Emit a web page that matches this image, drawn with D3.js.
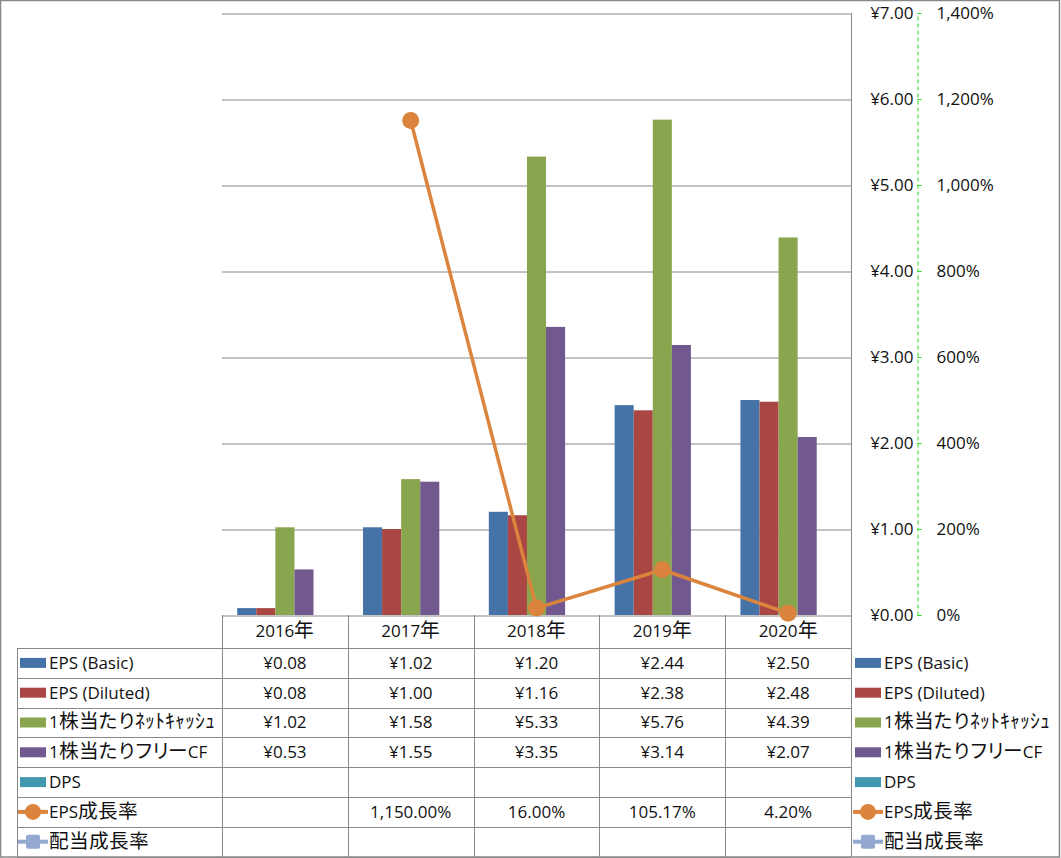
<!DOCTYPE html>
<html>
<head>
<meta charset="utf-8">
<script src="https://cdn.jsdelivr.net/npm/d3@7"></script>
<style>
  @font-face {
    font-family: "CJKBig";
    src: local("Noto Sans CJK JP Regular"), local("NotoSansCJKjp-Regular"), local("Noto Sans CJK JP");
    size-adjust: 116%;
  }
  html, body { margin: 0; padding: 0; background: #fff; }
  svg { display: block; }
  text { font-family: "Open Sans", "CJKBig", "Noto Sans CJK JP", sans-serif; font-size: 17px; fill: #111; }
  tspan.p { font-feature-settings: "palt" 1; }
</style>
</head>
<body>
<svg id="chart" width="1061" height="858"></svg>
<script>
// ---- data ----
const years = ["2016年", "2017年", "2018年", "2019年", "2020年"];
const epsBasic = [0.08, 1.02, 1.20, 2.44, 2.50];
const epsDiluted = [0.08, 1.00, 1.16, 2.38, 2.48];
const netCashPerShare = [1.02, 1.58, 5.33, 5.76, 4.39];
const freeCFPerShare = [0.53, 1.55, 3.35, 3.14, 2.07];
const dps = [null, null, null, null, null];
const epsGrowth = [null, 1150.00, 16.00, 105.17, 4.20];
const divGrowth = [null, null, null, null, null];
const yenTicks = [0, 1, 2, 3, 4, 5, 6, 7];
const pctTicks = [0, 200, 400, 600, 800, 1000, 1200, 1400];

const barSeries = [
  { name: "EPS (Basic)", values: epsBasic, color: "#4572A7" },
  { name: "EPS (Diluted)", values: epsDiluted, color: "#AA4643" },
  { name: "1株当たりﾈｯﾄｷｬｯｼｭ", values: netCashPerShare, color: "#89A54E" },
  { name: "1株当たりフリーCF", values: freeCFPerShare, color: "#71588F" },
  { name: "DPS", values: dps, color: "#4198AF" }
];
const lineSeries = [
  { name: "EPS成長率", values: epsGrowth, color: "#DB843D", marker: "circle" },
  { name: "配当成長率", values: divGrowth, color: "#93A9CF", marker: "square" }
];

// ---- layout ----
const svg = d3.select("#chart");
const W = 1061, H = 858;
const plotL = 222, plotR = 851, plotT = 13, plotB = 615;
const axisX = 917.5;
const headerB = 648, rowH = 29.8;
const tableL = 17;
const gridColor = "#888888";

// text helper: proportional kana for full-width runs, normal for half-width katakana
function setLabel(textSel, str) {
  const runs = str.match(/[\uFF61-\uFF9F]+|[^\uFF61-\uFF9F]+/g) || [];
  runs.forEach(r => {
    textSel.append("tspan").attr("class", /[\uFF61-\uFF9F]/.test(r) ? "h" : "p").text(r);
  });
}

// outer frame
svg.append("rect").attr("x", 0.5).attr("y", 0.5).attr("width", W - 2).attr("height", H - 1.5)
  .attr("fill", "none").attr("stroke", gridColor).attr("stroke-width", 1.5);

const x0 = d3.scaleBand().domain(years).range([plotL, plotR]).padding(0);
const x1 = d3.scaleBand().domain(barSeries.map(s => s.name))
  .range([x0.bandwidth() * 0.121, x0.bandwidth() * 0.879]).padding(0);
const y = d3.scaleLinear().domain([0, 7]).range([plotB, plotT]);
const y2 = d3.scaleLinear().domain([0, 1400]).range([plotB, plotT]);

// gridlines
const grid = svg.append("g").attr("transform", `translate(${plotL},0)`)
  .call(d3.axisRight(y).tickValues(yenTicks).tickSize(plotR - plotL).tickFormat(""));
grid.select(".domain").remove();
grid.selectAll("line").attr("stroke", gridColor).attr("stroke-width", 1)
  .attr("transform", "translate(0,0.5)");

// plot right border
svg.append("line").attr("x1", plotR + 0.5).attr("x2", plotR + 0.5).attr("y1", plotT).attr("y2", H - 1)
  .attr("stroke", gridColor);

// bars
const barG = svg.append("g");
barSeries.forEach(s => {
  barG.append("g").selectAll("rect")
    .data(years.map((yr, i) => ({ yr, v: s.values[i] })).filter(d => d.v != null))
    .join("rect")
    .attr("x", d => x0(d.yr) + x1(s.name))
    .attr("width", x1.bandwidth())
    .attr("y", d => y(d.v))
    .attr("height", d => y(0) - y(d.v))
    .attr("fill", s.color);
});

// lines
lineSeries.forEach(s => {
  const pts = years.map((yr, i) => ({ yr, v: s.values[i] })).filter(d => d.v != null);
  const line = d3.line().x(d => x0(d.yr) + x0.bandwidth() / 2).y(d => y2(d.v));
  svg.append("path").datum(pts).attr("d", line).attr("fill", "none")
    .attr("stroke", s.color).attr("stroke-width", 3.5).attr("stroke-linejoin", "round");
  svg.append("g").selectAll("circle").data(pts).join("circle")
    .attr("cx", d => x0(d.yr) + x0.bandwidth() / 2).attr("cy", d => y2(d.v)).attr("r", 8.5)
    .attr("fill", s.color);
});

// axis line (dashed green) with ticks
const ax = svg.append("g").attr("transform", `translate(${axisX},0)`)
  .call(d3.axisRight(y).tickValues(yenTicks).tickSizeInner(4).tickSizeOuter(0).tickFormat(""));
ax.select(".domain").attr("stroke", "#22dd22").attr("stroke-dasharray", "4,3");
ax.selectAll(".tick line").attr("stroke", "#22dd22");

const yenFmt = v => "¥" + v.toFixed(2);
const axL = svg.append("g").attr("transform", `translate(${axisX - 4},0)`)
  .call(d3.axisLeft(y).tickValues(yenTicks).tickSize(0).tickPadding(0).tickFormat(yenFmt));
axL.select(".domain").remove();
axL.selectAll("text").attr("font-size", null).attr("fill", "#111").attr("font-family", null);

const pctFmt = v => d3.format(",")(v) + "%";
const axR = svg.append("g").attr("transform", `translate(${axisX},0)`)
  .call(d3.axisRight(y2).tickValues(pctTicks).tickSize(0).tickPadding(19).tickFormat(pctFmt));
axR.select(".domain").remove();
axR.selectAll("text").attr("font-size", null).attr("fill", "#111").attr("font-family", null);

// ---- data table ----
const table = svg.append("g");
const allRows = [...barSeries.map(s => ({ ...s, type: "bar" })), ...lineSeries.map(s => ({ ...s, type: "line" }))];
const rowY = i => headerB + i * rowH;
const tableBottom = rowY(allRows.length);

// vertical lines
x0.domain().forEach((yr, i) => {
  table.append("line").attr("x1", Math.round(x0(yr)) + 0.5).attr("x2", Math.round(x0(yr)) + 0.5)
    .attr("y1", plotB).attr("y2", tableBottom).attr("stroke", gridColor);
});
table.append("line").attr("x1", tableL + 0.5).attr("x2", tableL + 0.5)
  .attr("y1", headerB).attr("y2", tableBottom).attr("stroke", gridColor);
// horizontal lines
for (let i = 0; i <= allRows.length; i++) {
  table.append("line").attr("x1", tableL).attr("x2", plotR)
    .attr("y1", Math.round(rowY(i)) + 0.5).attr("y2", Math.round(rowY(i)) + 0.5).attr("stroke", gridColor);
}

// header
table.append("g").selectAll("text").data(years).join("text")
  .attr("x", d => x0(d) + x0.bandwidth() / 2).attr("y", (plotB + headerB) / 2)
  .attr("text-anchor", "middle").attr("dy", "0.35em").text(d => d);

function drawKey(g, s, x, cy) {
  if (s.type === "bar") {
    g.append("rect").attr("x", x).attr("y", cy - 5).attr("width", 26).attr("height", 10).attr("fill", s.color);
  } else {
    g.append("line").attr("x1", x - 2).attr("x2", x + 28).attr("y1", cy).attr("y2", cy)
      .attr("stroke", s.color).attr("stroke-width", 4);
    if (s.marker === "circle") {
      g.append("circle").attr("cx", x + 13).attr("cy", cy).attr("r", 8).attr("fill", s.color);
    } else {
      g.append("rect").attr("x", x + 6).attr("y", cy - 7).attr("width", 14).attr("height", 14)
        .attr("rx", 2).attr("fill", s.color);
    }
  }
}

allRows.forEach((s, i) => {
  const cy = rowY(i) + rowH / 2;
  const g = table.append("g");
  drawKey(g, s, 20, cy);
  setLabel(g.append("text").attr("x", 49).attr("y", cy).attr("dy", "0.35em"), s.name);
  g.selectAll("text.val").data(years.map((yr, j) => ({ yr, v: s.values[j] })).filter(d => d.v != null))
    .join("text").attr("class", "val")
    .attr("x", d => x0(d.yr) + x0.bandwidth() / 2).attr("y", cy).attr("dy", "0.35em")
    .attr("text-anchor", "middle")
    .text(d => s.type === "bar" ? yenFmt(d.v) : d3.format(",.2f")(d.v) + "%");
  // right-side legend
  const lg = svg.append("g");
  drawKey(lg, s, 855, cy);
  setLabel(lg.append("text").attr("x", 884).attr("y", cy).attr("dy", "0.35em"), s.name);
});
</script>
</body>
</html>
